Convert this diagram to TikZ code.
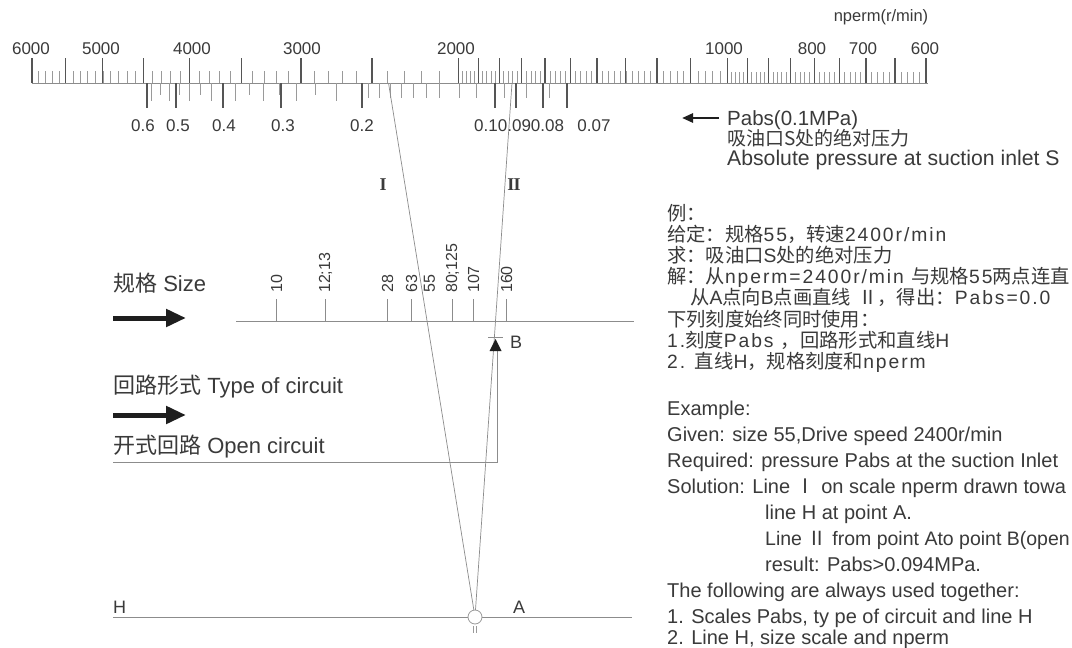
\documentclass[tikz,border=0pt]{standalone}
\usepackage{fontspec}
\setmainfont{Liberation Sans}
\newfontfamily\cjk{Noto Sans CJK SC}
\newfontfamily\zhlat[LetterSpace=10]{Liberation Sans}
\newfontfamily\rom{Liberation Serif}
\usetikzlibrary{arrows.meta}
\definecolor{txt}{HTML}{3A3A3A}
\definecolor{ln}{HTML}{8C8C8C}
\definecolor{tk}{HTML}{555555}
\definecolor{tkl}{HTML}{9A9A9A}
\definecolor{blk}{HTML}{1E1E1E}
\newcommand\zh[1]{{\cjk #1}}
\begin{document}
\begin{tikzpicture}[x=1pt,y=-1pt,
  every node/.style={text=txt, inner sep=0pt},
  scalenum/.style={font=\fontsize{17}{17}\selectfont, anchor=base},
  sizenum/.style={font=\fontsize{16}{16}\selectfont, anchor=west, rotate=90},
  bigtxt/.style={font=\fontsize{21.2}{21.2}\selectfont, anchor=base west},
  lefttxt/.style={font=\fontsize{22}{22}\selectfont, anchor=base west},
  midtxt/.style={font=\fontsize{20}{20}\selectfont, anchor=base west},
  cjktxt/.style={font=\zhlat\fontsize{19.3}{19.3}\selectfont, anchor=base west},
  majtick/.style={draw=tk, line width=1.3pt},
  mintick/.style={draw=tkl, line width=0.55pt},
  guide/.style={draw=ln, line width=0.75pt},
  fatarrow/.style={draw=blk, line width=5pt, -{Triangle[length=20pt,width=17pt]}},
  romlbl/.style={font=\rom\bfseries\fontsize{18}{18}\selectfont}
]
\useasboundingbox (0,0) rectangle (1072,648);
\fill[white] (0,0) rectangle (1072,648);

% ---------- top scale ----------
\draw[guide] (32,83) -- (928,83);
% rpm minor ticks
\foreach \n in {5900,5800,...,2100} {
  \pgfmathsetmacro\xx{32+388.26*ln(6000/\n)}
  \draw[mintick] (\xx,83) -- (\xx,71);
}
\foreach \n in {1980,1960,...,1020} {
  \pgfmathsetmacro\xx{32+388.26*ln(6000/\n)}
  \draw[mintick] (\xx,83) -- (\xx,71);
}
\foreach \n in {990,980,...,610} {
  \pgfmathsetmacro\xx{32+388.26*ln(6000/\n)}
  \draw[mintick] (\xx,83) -- (\xx,72);
}
% rpm major ticks
\foreach \n in {6000,5500,...,2000} {
  \pgfmathsetmacro\xx{32+388.26*ln(6000/\n)}
  \draw[majtick] (\xx,83) -- (\xx,58);
}
\foreach \n in {1900,1800,...,1100} {
  \pgfmathsetmacro\xx{32+388.26*ln(6000/\n)}
  \draw[majtick] (\xx,83) -- (\xx,58);
}
\foreach \n in {1000,950,...,600} {
  \pgfmathsetmacro\xx{32+388.26*ln(6000/\n)}
  \draw[majtick] (\xx,83) -- (\xx,58);
}
% rpm labels
\foreach \x/\t in {31/6000,101/5000,192/4000,302/3000,456/2000,724/1000,812/800,863/700,925/600}
  \node[scalenum] (r\t) at (\x,54) {\t};
\node[font=\fontsize{16.5}{16.5}\selectfont, anchor=base] (unit) at (881,21) {nperm(r/min)};

% pressure minor ticks
\foreach \k in {23,22,...,9} {
  \pgfmathsetmacro\pp{\k*0.025}
  \pgfmathsetmacro\xx{43-196.3*ln(\pp)}
  \pgfmathsetmacro\yy{ifthenelse(mod(\k,2)==0,95,101)}
  \draw[mintick] (\xx,83) -- (\xx,\yy);
}
\foreach \k in {19,18,...,11} {
  \pgfmathsetmacro\xx{43-196.3*ln(\k/100)}
  \draw[mintick] (\xx,83) -- (\xx,98);
}
\foreach \k in {95,85,75} {
  \pgfmathsetmacro\xx{43-196.3*ln(\k/1000)}
  \draw[mintick] (\xx,83) -- (\xx,98);
}
% pressure major ticks
\foreach \x in {147,176,223,281,362,495,516,543,567}
  \draw[majtick] (\x,83) -- (\x,108);
\foreach \x/\t/\nm in {143/0.6/a,178/0.5/b,224/0.4/c,283/0.3/d,362/0.2/e,486/0.1/f,514.5/0.09/g,547.5/0.08/h,594/0.07/i}
  \node[scalenum] (p\nm) at (\x,131) {\t};

% Pabs legend
\coordinate (pabsT) at (719,118);
\coordinate (pabsH) at (682,118);
\draw[draw=blk, line width=2.5pt, -{Triangle[length=11pt,width=9pt]}] (pabsT) -- (pabsH);
\node[bigtxt, font=\fontsize{20.5}{20.5}\selectfont] (pabs) at (727,125.5) {Pabs(0.1MPa)};
\node[anchor=base west, font=\cjk\fontsize{19}{19}\selectfont] (pabscn) at (727,145.5) {吸油口S处的绝对压力};
\node[bigtxt] (pabsen) at (727,165) {Absolute pressure at suction inlet S};

% ---------- guide lines I, II ----------
\coordinate (n2400) at (388.5,83);
\coordinate (p094) at (512,83);
\coordinate (A) at (475,617);
\coordinate (B) at (495,340);
\node[romlbl] (lI) at (383,185) {I};
\node[romlbl] (lII) at (514,185) {I\kern-0.04em I};

% ---------- size scale ----------
\coordinate (sizeL) at (236,321);
\coordinate (sizeR) at (634,321);
\draw[guide] (sizeL) -- (sizeR);
\foreach \x/\t/\nm in {276/10/a,325/12;13/b,387/28/c,411/63/d,429/55/e,452/80;125/f,473/107/g,506/160/h} {
  \node[sizenum] (s\nm) at (\x+0.5,293) {\t};
}
\foreach \x in {276,325,387,411,452,473,506}
  \draw[guide, line width=0.6pt] (\x,321) -- (\x,299);
\node[lefttxt] (size) at (113,291) {\zh{规格} Size};
\draw[fatarrow] (113,318) -- (186,318);

% ---------- circuit type ----------
\node[lefttxt] (type) at (113,393) {\zh{回路形式} Type of circuit};
\draw[fatarrow] (113,415) -- (186,415);
\node[lefttxt] (open) at (113,453) {\zh{开式回路} Open circuit};
\coordinate (openL) at (113,462);
\coordinate (openR) at (497,462);
\coordinate (Bfoot) at (497,346);
\draw[guide] (openL) -- (openR) -- (Bfoot);

% ---------- line H ----------
\coordinate (HL) at (113,617);
\coordinate (HR) at (632,617);
\draw[guide] (HL) -- (HR);
\node[font=\fontsize{18}{18}\selectfont, anchor=base west] (Hlbl) at (113,613) {H};
\node[font=\fontsize{18}{18}\selectfont, anchor=base west] (Albl) at (513,613) {A};

% construction lines
\draw[guide, line width=0.7pt] (n2400) -- (A);
\draw[guide, line width=0.7pt] (A) -- (p094);
% B marker
\fill[blk] (489.5,351) -- (501.5,351) -- (495.5,339) -- cycle;
\draw[guide, line width=0.6pt] (488,337) -- (503,337);
\node[font=\fontsize{18}{18}\selectfont, anchor=base west] (Blbl) at (510,348) {B};
% A marker
\draw[draw=tkl, line width=0.8pt, fill=white] (A) circle[radius=7pt];
\draw[draw=tkl, line width=0.5pt] (473.5,626) -- (473.5,633) (476.5,626) -- (476.5,633);

% ---------- Chinese example ----------
\node[cjktxt] (c1) at (667,220) {\zh{例：}};
\node[cjktxt] (c2) at (667,241.2) {\zh{给定：规格}55\zh{，转速}2400r/min};
\node[cjktxt] (c3) at (667,262.4) {\zh{求：吸油口}S\zh{处的绝对压力}};
\node[cjktxt] (c4) at (667,283.6) {\zh{解：从}nperm=2400r/min \zh{与规格}55\zh{两点连直}};
\node[cjktxt] (c5) at (690,304.8) {\zh{从}A\zh{点向}B\zh{点画直线} \zh{Ⅱ}\zh{，得出：}Pabs=0.0};
\node[cjktxt] (c6) at (667,326) {\zh{下列刻度始终同时使用：}};
\node[cjktxt] (c7) at (667,347.2) {1.\zh{刻度}Pabs \zh{，回路形式和直线}H};
\node[cjktxt] (c8) at (667,368.4) {2. \zh{直线}H\zh{，规格刻度和}nperm};

% ---------- English example ----------
\node[midtxt] (e1) at (667,415) {Example:};
\node[midtxt] (e2) at (667,441) {Given: size 55,Drive speed 2400r/min};
\node[midtxt] (e3) at (667,467) {Required: pressure Pabs at the suction Inlet};
\node[midtxt] (e4) at (667,493) {Solution: Line \zh{Ⅰ} on scale nperm drawn towa};
\node[midtxt] (e5) at (765,519) {line H at point A.};
\node[midtxt, font=\fontsize{19.5}{19.5}\selectfont] (e6) at (765,545) {Line \zh{Ⅱ} from point Ato point B(open};
\node[midtxt] (e7) at (765,571) {result: Pabs>0.094MPa.};
\node[midtxt] (e8) at (667,597) {The following are always used together:};
\node[midtxt] (e9) at (667,623) {1. Scales Pabs, ty pe of circuit and line H};
\node[midtxt] (e10) at (667,644) {2. Line H, size scale and nperm};
\end{tikzpicture}
\end{document}
